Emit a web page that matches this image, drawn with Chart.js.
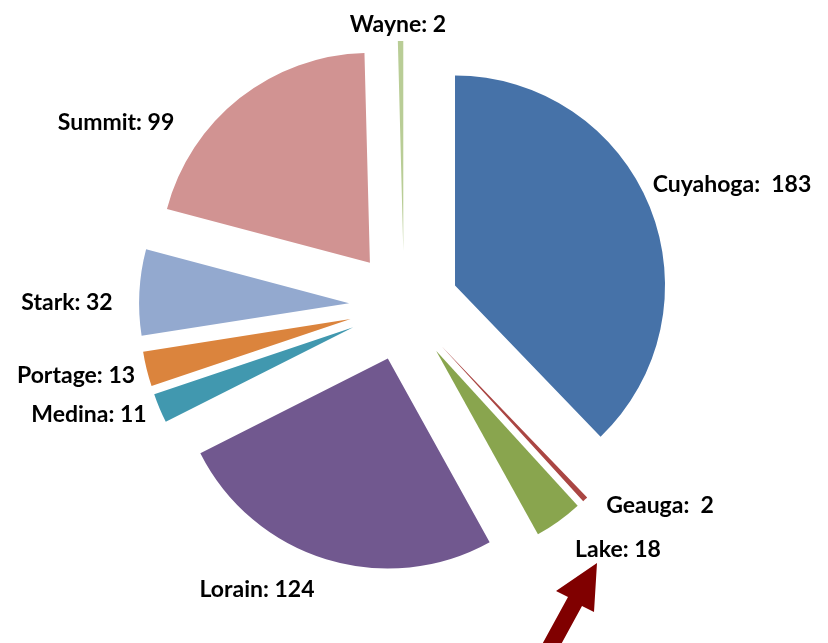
<!DOCTYPE html>
<html>
<head>
<meta charset="utf-8">
<script src="https://cdn.jsdelivr.net/npm/chart.js@4.4.1/dist/chart.umd.min.js"></script>
<style>
  html, body { margin: 0; padding: 0; background: #fff; }
  #wrap { width: 828px; height: 643px; }
</style>
</head>
<body>
<div id="wrap"><canvas id="pie"></canvas></div>
<script>
// data
const counties = ["Cuyahoga", "Geauga", "Lake", "Lorain", "Medina", "Portage", "Stark", "Summit", "Wayne"];
const counts = [183, 2, 18, 124, 11, 13, 32, 99, 2];
const sliceColors = ["#4672A8", "#AA4643", "#89A54E", "#71588F", "#4198AF", "#DB843D", "#93A9CF", "#D19392", "#B9CD96"];

// label placement (center x, baseline y) and gap after the colon
const labelSpots = [[732, 192], [660, 513], [618, 557], [257, 597], [89, 422], [76, 383], [67, 310], [116, 130], [398, 32]];
const labelGaps = [2, 2, 1, 1, 1, 1, 1, 1, 1];

const EXPLODE = 55; // every slice pulled out from the centre by this much

// pull the slices apart without the radius fix that "offset" does
const ArcEl = Chart.ArcElement || Chart.elements.ArcElement;
const baseArcDraw = ArcEl.prototype.draw;
ArcEl.prototype.draw = function (ctx) {
  const mid = (this.startAngle + this.endAngle) / 2;
  ctx.save();
  ctx.translate(Math.cos(mid) * EXPLODE, Math.sin(mid) * EXPLODE);
  baseArcDraw.call(this, ctx);
  ctx.restore();
};

const calloutPlugin = {
  id: "callouts",
  afterDraw(chart) {
    const ctx = chart.ctx;
    ctx.save();
    ctx.font = "bold 23px Lato";
    ctx.fillStyle = "#000";
    ctx.textAlign = "center";
    ctx.textBaseline = "alphabetic";
    counties.forEach((name, i) => {
      const txt = name + ":" + " ".repeat(labelGaps[i]) + counts[i];
      ctx.fillText(txt, labelSpots[i][0], labelSpots[i][1]);
    });

    // arrow pointing at the Lake label
    ctx.fillStyle = "#800000";
    ctx.beginPath();
    ctx.moveTo(597, 563);
    ctx.lineTo(556, 591);
    ctx.lineTo(568, 597);
    ctx.lineTo(539, 650);
    ctx.lineTo(558, 650);
    ctx.lineTo(582, 606);
    ctx.lineTo(594, 612);
    ctx.closePath();
    ctx.fill();
    ctx.restore();
  }
};

new Chart(document.getElementById("pie"), {
  type: "pie",
  data: {
    labels: counties,
    datasets: [{
      data: counts,
      backgroundColor: sliceColors,
      borderWidth: 0
    }]
  },
  options: {
    responsive: true,
    maintainAspectRatio: false,
    animation: false,
    radius: 210,
    layout: { padding: { left: 0, right: 20, top: 0, bottom: 31 } },
    plugins: {
      legend: { display: false },
      tooltip: { enabled: false }
    }
  },
  plugins: [calloutPlugin]
});
</script>
</body>
</html>
